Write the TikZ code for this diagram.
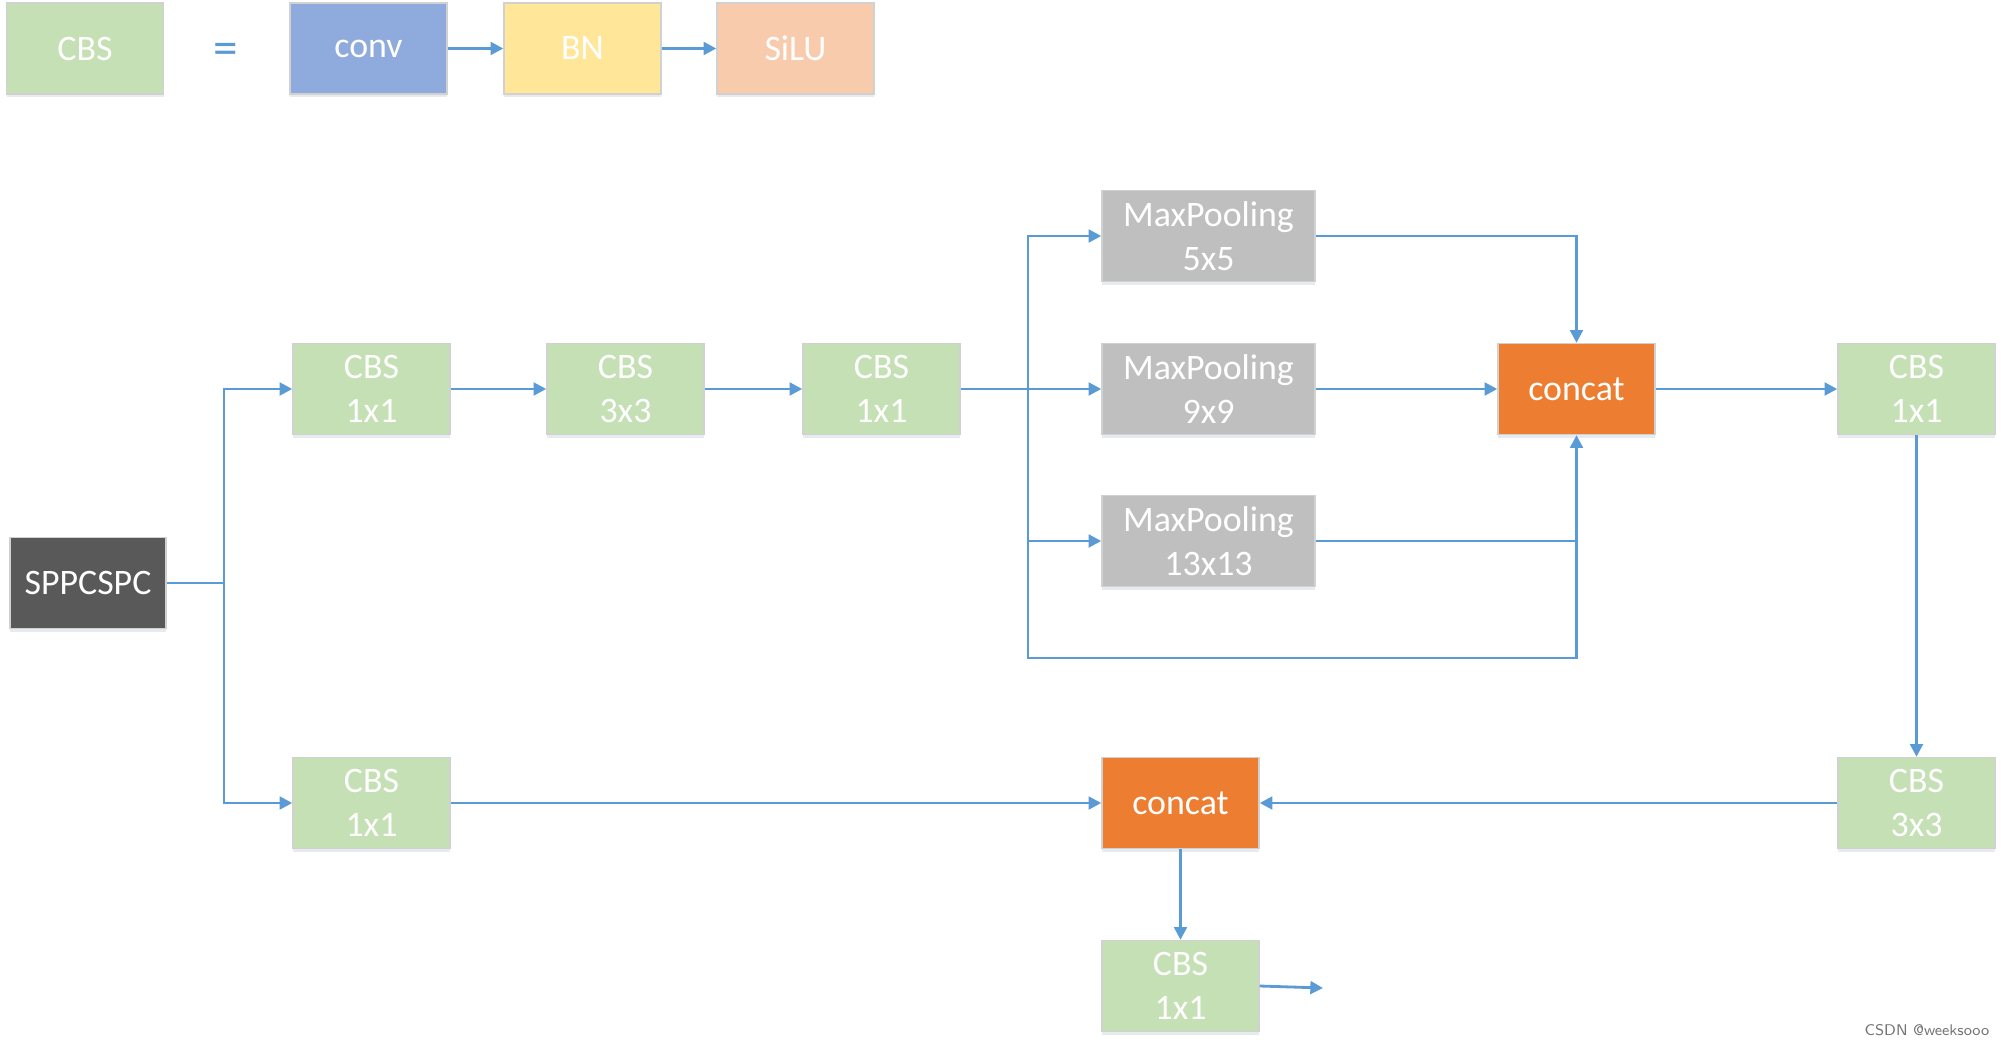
\documentclass[tikz,border=0pt]{standalone}
\usepackage{fontspec}
\setmainfont{Carlito}
\usepackage{tikz}
\usetikzlibrary{positioning, arrows.meta, shadows}
\definecolor{cbsgreen}{HTML}{C5E0B4}
\definecolor{convblue}{HTML}{8FAADC}
\definecolor{bnyellow}{HTML}{FFE699}
\definecolor{silupink}{HTML}{F8CBAD}
\definecolor{poolgray}{HTML}{BFBFBF}
\definecolor{catorange}{HTML}{ED7D31}
\definecolor{sppdark}{HTML}{595959}
\definecolor{linkblue}{HTML}{5B9BD5}
\tikzset{
  box/.style={rectangle,draw=black!18,line width=0.4pt,text=white,align=center,
    minimum width=15.7mm,minimum height=9.1mm,inner sep=0pt,
    font=\fontsize{10.2}{12.6}\selectfont,
    drop shadow={shadow xshift=0pt,shadow yshift=-0.9pt,fill=linkblue!60!black,opacity=0.12}},
  link/.style={draw=linkblue,line width=0.8pt},
  arr/.style={link,-{Triangle[length=3.6pt,width=3.6pt]}}
}

\begin{document}
\begin{tikzpicture}[x=0.1mm,y=-0.1mm]
    \tikzstyle{cbs}=[box,fill=cbsgreen]
    \tikzstyle{pool}=[box,fill=poolgray,minimum width=21.3mm]
    \tikzstyle{cat}=[box,fill=catorange]
    \useasboundingbox (0,0) rectangle (2004,1047);

    \node (legcbs)[cbs] at (85,48.5) {CBS};
    \node (eq)[text=linkblue,font=\fontsize{14}{14}\selectfont] at (226,54) {=};
    \node (conv)[box,fill=convblue] at (368.5,48.5) {conv};
    \node (bn)[box,fill=bnyellow] at (582.5,48.5) {BN};
    \node (silu)[box,fill=silupink] at (795.5,48.5) {SiLU};

    \node (spp)[box,fill=sppdark,minimum width=15.6mm] at (88,583) {SPPCSPC};
    \node (cbsa)[cbs] at (371.5,389) {CBS\\1x1};
    \node (cbsb)[cbs] at (625.5,389) {CBS\\3x3};
    \node (cbsc)[cbs] at (881.5,389) {CBS\\1x1};
    \node (mpa)[pool] at (1208.5,236) {MaxPooling\\5x5};
    \node (mpb)[pool] at (1208.5,389) {MaxPooling\\9x9};
    \node (mpc)[pool] at (1208.5,541) {MaxPooling\\13x13};
    \node (cata)[cat] at (1576.5,389) {concat};
    \node (cbsd)[cbs] at (1916.5,389) {CBS\\1x1};
    \node (cbsf)[cbs] at (371.5,803) {CBS\\1x1};
    \node (catb)[cat] at (1180.5,803) {concat};
    \node (cbse)[cbs] at (1916.5,803) {CBS\\3x3};
    \node (cbsg)[cbs] at (1180.5,986) {CBS\\1x1};

    \coordinate (split) at (224,583);
    \coordinate (fork) at (1028,389);
    \coordinate (loop) at (1028,658);
    \coordinate (out) at (1323,988);

    \draw[arr] (conv) -- (bn);
    \draw[arr] (bn) -- (silu);

    \draw[link] (spp) -- (split);
    \draw[arr] (split) |- (cbsa);
    \draw[arr] (split) |- (cbsf);
    \draw[arr] (cbsa) -- (cbsb);
    \draw[arr] (cbsb) -- (cbsc);
    \draw[link] (cbsc) -- (fork);
    \draw[arr] (fork) -- (mpb);
    \draw[arr] (fork) |- (mpa);
    \draw[arr] (fork) |- (mpc);
    \draw[arr] (fork) -- (loop) -| (cata.south);
    \draw[arr] (mpa) -| (cata.north);
    \draw[arr] (mpb) -- (cata);
    \draw[link] (mpc) -- (mpc -| cata.south);
    \draw[arr] (cata) -- (cbsd);
    \draw[arr] (cbsd) -- (cbse);
    \draw[arr] (cbse) -- (catb);
    \draw[arr] (cbsf) -- (catb);
    \draw[arr] (catb) -- (cbsg);
    \draw[arr] (cbsg.east) -- (out);

    \node (mark)[anchor=east,text=black!55,font=\fontsize{4.4}{5}\selectfont\sffamily,inner sep=0pt] at (1990,1030) {CSDN @weeksooo};
\end{tikzpicture}
\end{document}
